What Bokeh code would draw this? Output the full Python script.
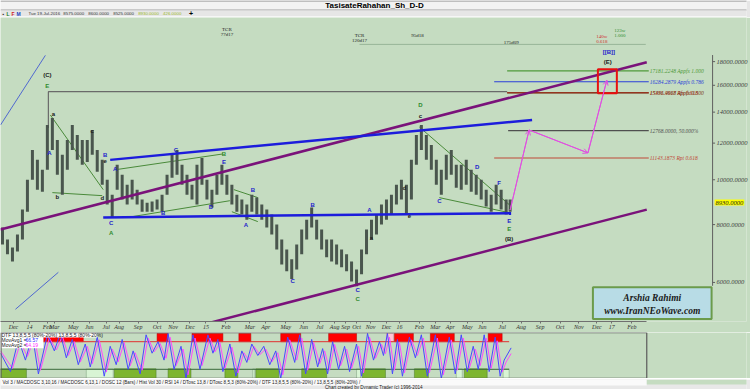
from bokeh.plotting import figure
from bokeh.layouts import column
from bokeh.models import (Range1d, FixedTicker, NumeralTickFormatter, Label,
                          Arrow, OpenHead, ColumnDataSource)
from bokeh.core.properties import value
from bokeh.embed import file_html
from bokeh.resources import INLINE

# ---------------- data ----------------
title_text = "TasisateRahahan_Sh_D-D"
info_text = ["Tue 19-Jul-2016", "8575.0000", "8600.0000", "8525.0000", "8930.0000", "426.0000"]
last_close = 8930.0

bar_x = [2, 7, 12, 17, 22, 27, 32, 37, 42, 47, 52, 57, 62, 67, 72, 77, 82, 87, 92, 97,
         102, 107, 112, 117, 122, 127, 132, 137, 142, 147, 152, 157, 162, 167, 172, 177,
         182, 187, 192, 197, 202, 207, 212, 217, 222, 227, 232, 237, 242, 247, 252, 257,
         262, 267, 272, 277, 282, 287, 292, 297, 302, 307, 312, 317, 322, 327, 332, 337,
         342, 347, 352, 357, 362, 367, 372, 377, 382, 387, 392, 397, 402, 407, 412, 417,
         422, 427, 432, 437, 442, 447, 452, 457, 462, 467, 472, 477, 482, 487, 492, 497,
         502, 507, 511]
bar_high = [7890, 7430, 7140, 7620, 8620, 10000, 11600, 11040, 10510, 13130, 13590, 12190,
            11320, 12190, 13130, 12490, 12190, 12190, 12810, 11600, 11040, 10000, 9280,
            10770, 10250, 9750, 10000, 9520, 9060, 8920, 8970, 9060, 9280, 10250, 11320,
            11600, 10770, 10250, 9750, 10770, 11150, 10000, 9520, 10250, 10770, 10250, 9750,
            9280, 9060, 8840, 9280, 9150, 8840, 8620, 8410, 8000, 7430, 7070, 6730, 7250,
            7810, 8200, 8710, 8200, 7810, 7430, 7430, 7250, 7070, 6900, 6660, 6400, 7070,
            7810, 8200, 8410, 8840, 9060, 9280, 9750, 10000, 9750, 11040, 12490, 13130,
            12490, 11890, 11040, 10510, 11320, 11600, 10770, 10770, 11040, 10510, 10250,
            10000, 9520, 9280, 9750, 9520, 9060, 9060]
bar_low = [7250, 6900, 6660, 7000, 7430, 8530, 10000, 9520, 9420, 10510, 11600, 10250, 9280,
           10510, 11600, 11040, 10770, 10930, 11320, 10400, 9750, 8840, 8290, 9520, 9060,
           8840, 9060, 8840, 8530, 8530, 8530, 8620, 8530, 9280, 10100, 10250, 9750, 9280,
           9060, 8840, 9750, 9060, 8710, 9280, 9750, 9280, 8840, 8530, 8410, 8200, 8530,
           8410, 8200, 7890, 7620, 7070, 6560, 6340, 6100, 6400, 6900, 7430, 7890, 7430,
           7070, 6800, 6660, 6560, 6470, 6340, 6030, 5890, 6250, 6900, 7430, 7620, 8000,
           8200, 8410, 8840, 9060, 8410, 9060, 10770, 11600, 11040, 10510, 9750, 9280,
           10000, 10250, 9610, 9520, 9750, 9420, 9280, 9060, 8750, 8530, 8840, 8620, 8410,
           8525]

price_ticks = [6000, 8000, 10000, 12000, 14000, 16000, 18000]
price_axis_bounds = [5900, 18600]
date_pos = [13, 29, 47, 54, 73, 89, 106, 119, 138, 157, 173, 190,
            206, 226, 250, 266, 286, 304, 320, 335, 346, 357, 371, 387,
            400, 420, 436, 451, 468, 483, 503, 522, 541, 561, 580, 598,
            613, 633]
date_labels = ["Dec", "14", "Feb", "Mar", "May", "Jun", "Jul", "Aug", "Sep", "Oct", "Nov", "Dec",
               "15", "Feb", "Mar", "Apr", "May", "Jun", "Jul", "Aug", "Sep", "Oct", "Nov", "Dec",
               "16", "Feb", "Mar", "Apr", "May", "Jun", "Jul", "Aug", "Sep", "Oct", "Nov", "Dec",
               "17", "Feb"]

upper_purple_x = [0, 648]
upper_purple_p = [7810, 17940]
lower_purple_x = [205, 648]
lower_purple_p = [4878, 8620]
upper_blue_x = [110, 533]
upper_blue_p = [11040, 13460]
lower_blue_x = [103, 512]
lower_blue_p = [8290, 8470]
thin_blue_a_x = [0, 45]
thin_blue_a_p = [13130, 18570]
thin_blue_b_x = [15, 58]
thin_blue_b_p = [5250, 6310]
e_level_x = [48, 48, 508]
e_level_p = [12940, 15500, 15500]
wave_line_x0 = [50, 52, 115, 133, 234, 232, 420, 440]
wave_line_p0 = [13800, 9380, 10510, 8330, 9520, 8530, 13000, 9150]
wave_line_x1 = [103, 102, 223, 230, 258, 258, 510, 510]
wave_line_p1 = [9520, 9240, 11370, 9010, 9150, 8120, 8840, 8490]

fib_price = [17181.2248, 16284.2879, 15431.9617, 15396.4968, 12768.0, 11143.1873]
fib_text = ["17181.2248 Appfx 1.000", "16284.2879 Appfx 0.786", "15431.9617 Rfs 0.618",
            "15396.4968 Appfx 0.500", "12768.0000, 50.000%", "11143.1873 Rpt 0.618"]
fib_start = [508, 495, 508, 508, 509, 495]
fib_end = [650, 650, 650, 650, 650, 650]
fib_color = ["#4f9a3a", "#2b3fd8", "#b03020", "#7a3a20", "#505050", "#c04838"]

proj_x = [511, 530, 589, 608]
proj_p = [8600, 12810, 11430, 16410]
target_box_x = [599, 618]
target_box_p = [15380, 17320]

time_line_x = [360, 647]
time_line_p = [19610, 19610]

wave_text = ["(C)", "E", "a", "A", "b", "c", "B", "e", "d", "A", "C", "A", "C", "B", "B", "E",
             "D", "A", "B", "B", "C", "C", "C", "A", "a", "d", "e", "D", "c", "C", "D", "F",
             "E", "E", "(B)", "(E)", "[[B]]"]
wave_x = [47, 47, 53, 49, 57, 92, 105, 105, 102, 115, 111, 111, 176, 163, 224, 224,
          211, 246, 253, 313, 293, 358, 358, 370, 372, 405, 410, 421, 421, 440, 478, 500,
          510, 510, 510, 609, 610]
wave_p = [16820, 15930, 13870, 11430, 9190, 12750, 11320, 10990, 9150, 10560, 8080, 7690,
          11600, 8490, 11370, 10930, 8750, 8000, 9520, 8840, 6030, 5770, 5520, 8620, 7500,
          9610, 8330, 14490, 13730, 9010, 10670, 9850, 8160, 7810, 7430, 17940, 18850]
wave_kind = ["k", "g", "k", "b", "k", "k", "b", "k", "k", "b", "b", "g", "b", "b", "g", "b",
             "b", "b", "b", "b", "b", "b", "g", "b", "k", "k", "k", "g", "k", "b", "b", "b",
             "b", "g", "k", "k", "b"]

note_text = ["TCR", "77d17", "TCR", "120d17", "95d18", "175d09", "140w", "0.618", "123w", "1.000"]
note_x = [227, 227, 360, 360, 418, 512, 603, 603, 621, 621]
note_p = [21120, 20610, 20500, 20000, 20500, 19800, 20400, 19900, 21010, 20500]
note_kind = ["k", "k", "k", "k", "k", "k", "r", "r", "g", "g"]

osc_fast_x = [0, 10, 18, 25, 32, 38, 47, 54, 60, 66, 72, 78, 85, 90, 97, 104, 110, 116, 122,
              128, 133, 140, 146, 152, 158, 164, 168, 174, 181, 186, 193, 200, 208, 213, 218,
              223, 230, 236, 242, 247, 252, 258, 264, 270, 276, 281, 288, 295, 300, 306, 312,
              318, 323, 328, 333, 339, 345, 350, 357, 362, 368, 374, 380, 384, 388, 393, 398,
              403, 410, 416, 422, 428, 436, 442, 450, 456, 462, 468, 474, 479, 485, 490, 496,
              501, 505, 512]
osc_fast = [55, 15, 85, 40, 95, 10, 95, 60, 98, 45, 85, 30, 75, 25, 90, 5, 70, 30, 85, 20, 60,
            10, 95, 55, 80, 40, 98, 20, 70, 0, 95, 20, 95, 55, 85, 15, 75, 5, 60, 35, 75, 50,
            70, 30, 60, 0, 90, 35, 95, 10, 85, 25, 65, 10, 80, 20, 70, 15, 75, 5, 98, 40, 80,
            50, 98, 10, 85, 5, 90, 45, 95, 5, 95, 0, 90, 10, 95, 15, 70, 20, 95, 15, 90, 5,
            40, 66.57]
osc_slow_x = [0, 12, 20, 27, 34, 40, 49, 56, 62, 68, 74, 80, 87, 92, 99, 106, 112, 118, 124,
              130, 135, 142, 148, 154, 160, 166, 170, 176, 183, 188, 195, 202, 210, 215, 220,
              225, 232, 238, 244, 249, 254, 260, 266, 272, 278, 283, 290, 297, 302, 308, 314,
              320, 325, 330, 335, 341, 347, 352, 359, 364, 370, 376, 382, 386, 390, 395, 400,
              405, 412, 418, 424, 430, 438, 444, 452, 458, 464, 470, 476, 481, 487, 492, 498,
              503, 507, 512]
osc_slow = [60, 22, 78, 48, 88, 18, 88, 62, 92, 50, 80, 36, 70, 32, 84, 14, 64, 36, 78, 28, 56,
            18, 88, 58, 76, 44, 90, 28, 64, 8, 88, 28, 88, 58, 78, 22, 68, 12, 56, 40, 70, 52,
            64, 36, 56, 8, 84, 40, 88, 18, 78, 32, 60, 18, 74, 28, 64, 22, 70, 12, 90, 44, 74,
            54, 90, 18, 78, 12, 84, 50, 88, 12, 88, 8, 84, 18, 88, 22, 64, 28, 88, 22, 82, 14,
            36, 54.19]
red_zone_x0 = [43, 157, 192, 239, 281, 329, 395, 431, 489]
red_zone_x1 = [83, 168, 223, 251, 301, 357, 414, 455, 503]
pink_zone_x0 = [387]
pink_zone_x1 = [394]
green_zone_x0 = [0, 114, 168, 225, 256, 302, 363, 415, 465]
green_zone_x1 = [26, 156, 191, 238, 279, 327, 386, 429, 488]
pale_zone_x0 = [86, 253, 357, 457, 504]
pale_zone_x1 = [113, 255, 361, 463, 510]
osc_levels = [80, 20]

footer_text = ("Vol 3 / MACDOSC 3,10,16 / MACDOSC 6,13,1 / DOSC 12 (Bars) / Hist Vol 30 / "
               "RSI 14 / DTosc 13,8 / DTosc 8,5,3 (80%-20%) / DTF 13,8,5,5 (80%-20%) / 13,8,5,5 (80%-20%) /")
credit_text = "Chart created by Dynamic Trader  (c) 1996-2014"

# ---------------- styling ----------------
BG = "#c5dcc1"
SANS = value("Liberation Sans")
SERIF = value("Liberation Serif")
KCOL = {"k": "#202020", "g": "#2e8b2e", "b": "#2222cc", "r": "#d03030"}
AXIS_X = 714          # where the price axis line sits (bar units)
PANEL_W = 648         # right edge of the oscillator / date axis area
XMAX = 748            # width of every frame in px (= bar units)


def bare(fig):
    fig.min_border_left = 0
    fig.min_border_top = 0
    fig.min_border_bottom = 0
    fig.min_border_right = 0
    fig.outline_line_color = None
    fig.grid.visible = False
    return fig


# ---------------- header ----------------
hdr = figure(width=750, height=17, x_range=Range1d(0, XMAX), y_range=Range1d(0, 17),
             x_axis_location=None, y_axis_location=None, toolbar_location=None,
             output_backend="svg", tools="")
bare(hdr)
hdr.background_fill_color = "#f2f2f2"
hdr.border_fill_color = "#e6e6e6"
hdr.quad(left=0, right=760, bottom=16, top=17, fill_color="#8a8a8a", line_color=None)
hdr.quad(left=0, right=760, bottom=7, top=8, fill_color="#a0a0a0", line_color=None)
hdr.quad(left=0, right=760, bottom=1, top=7, fill_color="#e6e6e6", line_color=None)
hdr.quad(left=0, right=760, bottom=0, top=1, fill_color="#ffffff", line_color=None)
hdr.text(x=[375], y=[11.8], text=[title_text], text_font=SANS, text_font_size="8px",
         text_font_style="bold", text_align="center", text_baseline="middle", text_color="#000000")
hdr.text(x=[2, 6, 11, 16], y=[4] * 4, text=["\u25aa", "L", "F", "M"],
         text_color=["#333333", "#208020", "#d02020", "#2040c0"], text_font=SANS,
         text_font_size="5px", text_font_style="bold", text_baseline="middle")
hdr.text(x=[28, 63, 88, 113, 138, 163], y=[4] * 6, text=info_text,
         text_color=["#333333", "#333333", "#333333", "#333333", "#9ab828", "#9ab828"],
         text_font=SANS, text_font_size="4.4px", text_baseline="middle")
hdr.text(x=[189], y=[4], text=["+"], text_font=SANS, text_font_size="7px",
         text_font_style="bold", text_baseline="middle", text_color="#000000")

# ---------------- main price chart ----------------
# the price axis labels are pulled back inside the frame with a negative standoff
# so the yellow last-price tag can be drawn over them
p = figure(width=750, height=315, x_range=Range1d(0, XMAX), y_range=Range1d(4940, 22418),
           y_axis_type="log", y_axis_location="right", x_axis_location="below",
           toolbar_location=None, output_backend="svg", tools="")
bare(p)
p.background_fill_color = BG
p.border_fill_color = BG

p.yaxis.ticker = FixedTicker(ticks=price_ticks)
p.yaxis.formatter = NumeralTickFormatter(format="0.0000")
p.yaxis.major_label_text_font = "Liberation Serif"
p.yaxis.major_label_text_font_style = "italic"
p.yaxis.major_label_text_font_size = "6.5px"
p.yaxis.major_label_text_color = "#404040"
p.yaxis.axis_line_color = None
p.yaxis.major_tick_line_color = None
p.yaxis.major_tick_in = 0
p.yaxis.major_tick_out = 0
p.yaxis.major_label_standoff = -30
p.yaxis.minor_tick_line_color = None

p.xaxis.ticker = FixedTicker(ticks=date_pos)
p.xaxis.major_label_overrides = {pos: lab for pos, lab in zip(date_pos, date_labels)}
p.xaxis.bounds = (0, PANEL_W)
p.xaxis.major_label_text_font = "Liberation Serif"
p.xaxis.major_label_text_font_style = "italic"
p.xaxis.major_label_text_font_size = "6px"
p.xaxis.major_label_text_color = "#303030"
p.xaxis.axis_line_color = "#707070"
p.xaxis.major_tick_line_color = "#707070"
p.xaxis.major_tick_in = 0
p.xaxis.major_tick_out = 2
p.xaxis.major_label_standoff = 0
p.xaxis.minor_tick_line_color = None

# price axis line and ticks
p.segment(x0=[AXIS_X], y0=[price_axis_bounds[0]], x1=[AXIS_X], y1=[price_axis_bounds[1]],
          line_color="#606060", line_width=1)
p.segment(x0=[AXIS_X] * len(price_ticks), y0=price_ticks, x1=[AXIS_X + 2.5] * len(price_ticks),
          y1=price_ticks, line_color="#606060", line_width=1)

# time line at top and notes
p.line(time_line_x, time_line_p, line_color="#98b498", line_width=1)
note_src = ColumnDataSource(dict(x=note_x, y=note_p, t=note_text, c=[KCOL[k] for k in note_kind]))
p.text(x="x", y="y", text="t", text_color="c", source=note_src, text_font=SERIF,
       text_font_size="5px", text_align="center", text_baseline="middle")

# thin guide lines
p.line(thin_blue_a_x, thin_blue_a_p, line_color="#5068d0", line_width=1)
p.line(thin_blue_b_x, thin_blue_b_p, line_color="#5068d0", line_width=1)
p.line(e_level_x, e_level_p, line_color="#6a6a6a", line_width=1.2)
p.segment(x0=wave_line_x0, y0=wave_line_p0, x1=wave_line_x1, y1=wave_line_p1,
          line_color="#4a8a3a", line_width=1)

# fib levels
fib_src = ColumnDataSource(dict(x0=fib_start, x1=fib_end, y=fib_price, t=fib_text, c=fib_color,
                                tx=[651] * len(fib_price)))
p.segment(x0="x0", y0="y", x1="x1", y1="y", line_color="c", line_width=1.2, source=fib_src)
p.text(x="tx", y="y", text="t", text_color="c", source=fib_src, text_font=SERIF,
       text_font_style="italic", text_font_size="5.5px", text_baseline="middle")

# price bars
p.segment(x0=bar_x, y0=bar_low, x1=bar_x, y1=bar_high, line_color="#4a564e", line_width=3)

# channels
p.line(upper_purple_x, upper_purple_p, line_color="#7a127a", line_width=2.5)
p.line(lower_purple_x, lower_purple_p, line_color="#7a127a", line_width=2.5)
p.line(upper_blue_x, upper_blue_p, line_color="#1c1cdc", line_width=2.5)
p.line(lower_blue_x, lower_blue_p, line_color="#1c1cdc", line_width=2.5)

# projection path
p.line(proj_x, proj_p, line_color="#e050e0", line_width=1)
for i in range(len(proj_x) - 1):
    p.add_layout(Arrow(end=OpenHead(size=5, line_color="#e050e0", line_width=1),
                       x_start=proj_x[i], y_start=proj_p[i], x_end=proj_x[i + 1], y_end=proj_p[i + 1],
                       line_color="#e050e0", line_width=1))
p.quad(left=[target_box_x[0]], right=[target_box_x[1]], bottom=[target_box_p[0]],
       top=[target_box_p[1]], fill_color=None, line_color="#e81010", line_width=2)

# wave labels
wave_src = ColumnDataSource(dict(x=wave_x, y=wave_p, t=wave_text, c=[KCOL[k] for k in wave_kind]))
p.text(x="x", y="y", text="t", text_color="c", source=wave_src, text_font=SANS,
       text_font_size="6px", text_font_style="bold", text_align="center", text_baseline="middle")

# signature box
p.quad(left=[594], right=[713], bottom=[5000], top=[5860], fill_color="#b8dce6",
       line_color="#6b9b4b", line_width=2)
p.text(x=[653.5, 653.5], y=[5547, 5202], text=["Arshia Rahimi", "www.IranNEoWave.com"],
       text_font=SERIF, text_font_style="bold italic", text_font_size="9.5px",
       text_align="center", text_baseline="middle", text_color="#1a1a1a")

# last price tag
p.add_layout(Label(x=AXIS_X + 2, y=last_close, text="8930.0000",
                   text_font="Liberation Serif", text_font_style="italic", text_font_size="6.5px",
                   text_color="#202020", text_baseline="middle",
                   background_fill_color="#ffff00", padding=1))

# ---------------- oscillator ----------------
o = figure(width=750, height=46, x_range=Range1d(0, XMAX), y_range=Range1d(0, 100),
           x_axis_location=None, y_axis_location=None, toolbar_location=None,
           output_backend="svg", tools="")
bare(o)
o.background_fill_color = BG
o.border_fill_color = BG
o.quad(left=red_zone_x0, right=red_zone_x1, bottom=80, top=98, fill_color="#ff0000",
       line_color="#b00000", line_width=0.5)
o.quad(left=pink_zone_x0, right=pink_zone_x1, bottom=80, top=98, fill_color="#ffc4d4",
       line_color="#c08090", line_width=0.5)
o.quad(left=green_zone_x0, right=green_zone_x1, bottom=0, top=21, fill_color="#7db52f",
       line_color="#4a7a2a", line_width=0.5)
o.quad(left=pale_zone_x0, right=pale_zone_x1, bottom=0, top=21, fill_color="#d8f4d4",
       line_color="#7a9a7a", line_width=0.5)
o.segment(x0=[0, 0], y0=osc_levels, x1=[510, 510], y1=osc_levels,
          line_color=["#e03030", "#3a6a3a"], line_width=1)
o.line(osc_slow_x, osc_slow, line_color="#ff48ff", line_width=1)
o.line(osc_fast_x, osc_fast, line_color="#4848ff", line_width=1)
o.quad(left=[0, 0], right=[97, 43], bottom=[89, 66], top=[100, 89], fill_color="#ffffff",
       line_color=None)
o.text(x=[1, 1, 1], y=[95, 83, 72],
       text=["DTF 13,8,5,5 (80%-20%) 13,8,5,5 (80%-20%)", "MovAvg1 =", "MovAvg2 ="],
       text_font=SANS, text_font_size="5px", text_baseline="middle", text_color="#202020")
o.text(x=[25, 25], y=[83, 72], text=["66.57", "54.19"], text_color=["#3030ff", "#ff30ff"],
       text_font=SANS, text_font_size="5px", text_baseline="middle")
# panel frame
o.quad(left=[0.5], right=[PANEL_W], bottom=[0.5], top=[99.5], fill_color=None,
       line_color="#5a5a5a", line_width=1.2)

# ---------------- footer ----------------
f = figure(width=750, height=11, x_range=Range1d(0, XMAX), y_range=Range1d(0, 11),
           x_axis_location=None, y_axis_location=None, toolbar_location=None,
           output_backend="svg", tools="")
bare(f)
f.background_fill_color = "#e8e8e8"
f.border_fill_color = "#e8e8e8"
f.quad(left=[0], right=[PANEL_W], bottom=[5], top=[11], fill_color="#fafafa", line_color=None)
f.quad(left=[PANEL_W], right=[760], bottom=[6], top=[11], fill_color=BG, line_color=None)
f.text(x=[2], y=[8], text=[footer_text], text_font=SANS, text_font_size="4.6px",
       text_baseline="middle", text_color="#202020")
f.text(x=[375], y=[3.2], text=[credit_text], text_font=SANS, text_font_size="4.6px",
       text_align="center", text_baseline="middle", text_color="#202020")

layout = column(hdr, p, o, f, spacing=0)
open("out.html", "w").write(file_html(layout, INLINE))
